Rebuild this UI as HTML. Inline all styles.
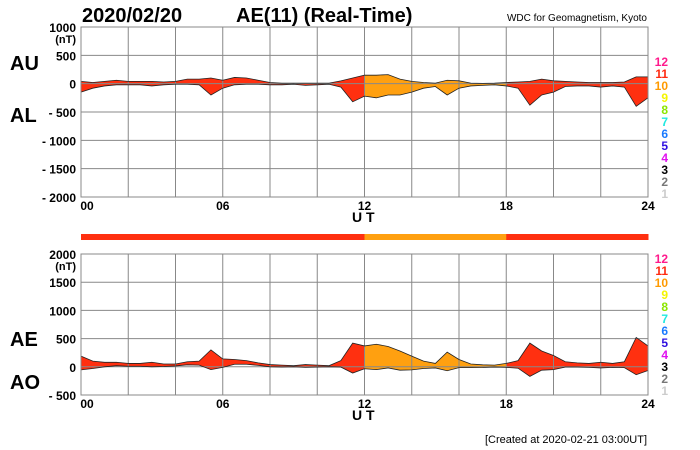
<!DOCTYPE html>
<html><head><meta charset="utf-8"><style>
body{margin:0;background:#fff;}
svg{display:block;font-family:"Liberation Sans",Arial,sans-serif;}
</style></head><body>
<svg id="c" width="700" height="450" viewBox="0 0 700 450">
<text x="82" y="22" font-size="20" font-weight="bold">2020/02/20</text>
<text x="236" y="22" font-size="20" font-weight="bold">AE(11) (Real-Time)</text>
<text x="647" y="21" font-size="10" text-anchor="end">WDC for Geomagnetism, Kyoto</text>
<text x="10" y="70" font-size="20" font-weight="bold">AU</text>
<text x="10" y="122" font-size="20" font-weight="bold">AL</text>
<text x="10" y="346" font-size="20" font-weight="bold">AE</text>
<text x="10" y="389" font-size="20" font-weight="bold">AO</text>
<text x="352" y="222" font-size="14" font-weight="bold">U T</text>
<text x="352" y="420" font-size="14" font-weight="bold">U T</text>
<text x="647" y="443" font-size="11" text-anchor="end">[Created at 2020-02-21 03:00UT]</text>
<g id="g"></g>
</svg>
<script>
const hours=[0,0.5,1,1.5,2,2.5,3,3.5,4,4.5,5,5.5,6,6.5,7,7.5,8,8.5,9,9.5,10,10.5,11,11.5,12,12.5,13,13.5,14,14.5,15,15.5,16,16.5,17,17.5,18,18.5,19,19.5,20,20.5,21,21.5,22,22.5,23,23.5,24];
const au=[40,20,40,60,40,40,40,30,40,80,80,100,60,110,100,60,20,10,10,10,10,10,50,100,150,150,160,80,40,20,10,60,50,10,5,10,20,30,40,80,50,40,30,20,20,20,30,120,120];
const al=[-150,-80,-40,-20,-20,-20,-40,-20,-10,-10,-20,-200,-80,-20,-10,-10,-20,-20,-10,-30,-20,-10,-60,-320,-220,-250,-200,-200,-150,-80,-50,-200,-80,-40,-30,-20,-40,-80,-380,-200,-150,-50,-40,-40,-60,-40,-60,-400,-250];
const stationCount=[11,11,11,11,11,11,11,11,11,11,11,11,10,10,10,10,10,10,11,11,11,11,11,11];
const xTicks=["00","06","12","18","24"];
const topTicks=[1000,500,0,-500,-1000,-1500,-2000];
const botTicks=[2000,1500,1000,500,0,-500];
const legendNums=[12,11,10,9,8,7,6,5,4,3,2,1];
const legendCols=["#ff1a8c","#ff2a10","#ff9a00","#f5f500","#8ce600","#20e8e0","#1a7aff","#3010e0","#e010f0","#000","#777","#ccc"];
const colorOf={11:"#ff3010",10:"#ffa010"};
const NS="http://www.w3.org/2000/svg",g=document.getElementById('g');
const X0=81,X1=648;
const xs=h=>X0+(X1-X0)*h/24;
function el(t,a,p){const e=document.createElementNS(NS,t);for(const k in a)e.setAttribute(k,a[k]);(p||g).appendChild(e);return e;}
function panel(top,bot,vmax,vmin,ticks,upper,lower,name,legTop){
  const ys=v=>top+(bot-top)*(vmax-v)/(vmax-vmin);
  const defs=el('clipPath',{id:'cp'+name});
  let d='M'+hours.map((h,i)=>xs(h)+','+ys(upper[i])).join('L');
  for(let i=hours.length-1;i>=0;i--)d+='L'+xs(hours[i])+','+ys(lower[i]);
  el('path',{d:d+'Z'},defs);
  const fg=el('g',{'clip-path':'url(#cp'+name+')'});
  stationCount.forEach((c,i)=>{
    const r=el('rect',{x:xs(i),y:top,width:xs(i+1)-xs(i)+0.5,height:bot-top,fill:colorOf[c]||"#ff3010"},fg);
    
    
  });
  for(let k=0;k<=12;k++){const x=xs(k*2);el('line',{x1:x,y1:top,x2:x,y2:bot,stroke:'#888','stroke-width':1});}
  ticks.forEach(v=>{
    el('line',{x1:X0,y1:ys(v),x2:X1,y2:ys(v),stroke:'#888','stroke-width':1});
    const t=el('text',{x:76,y:ys(v)+5,'font-size':12,'font-weight':'bold','text-anchor':'end'});
    t.textContent=(v<0?'- '+(-v):v);
    
    
  });
  const u=el('text',{x:76,y:ys(ticks[0])+16,'font-size':11,'font-weight':'bold','text-anchor':'end'});u.textContent='(nT)';
  el('path',{d:'M'+hours.map((h,i)=>xs(h)+','+ys(upper[i])).join('L'),fill:'none',stroke:'#222','stroke-width':0.8});
  el('path',{d:'M'+hours.map((h,i)=>xs(h)+','+ys(lower[i])).join('L'),fill:'none',stroke:'#222','stroke-width':0.8});
  el('rect',{x:X0,y:top,width:X1-X0,height:bot-top,fill:'none',stroke:'#888'});
  xTicks.forEach((s,i)=>{const t=el('text',{x:xs(i*6)+(i==0?6:0),y:bot+13,'font-size':12,'font-weight':'bold','text-anchor':'middle'});t.textContent=s;
    });
  legendNums.forEach((n,i)=>{const t=el('text',{x:668,y:legTop+i*12,'font-size':12,'font-weight':'bold','text-anchor':'end',fill:legendCols[i]});t.textContent=n;
    });
}
panel(27,197,1000,-2000,topTicks,au,al,'aual',66);
const ae=au.map((v,i)=>v-al[i]);
const ao=au.map((v,i)=>(v+al[i])/2);
panel(254,395,2000,-500,botTicks,ae,ao,'aeao',263);
stationCount.forEach((c,i)=>{
  const r=el('rect',{x:xs(i),y:234,width:xs(i+1)-xs(i)+0.5,height:6,fill:colorOf[c]||"#ff3010"});
  
  
});
</script>
</body></html>
